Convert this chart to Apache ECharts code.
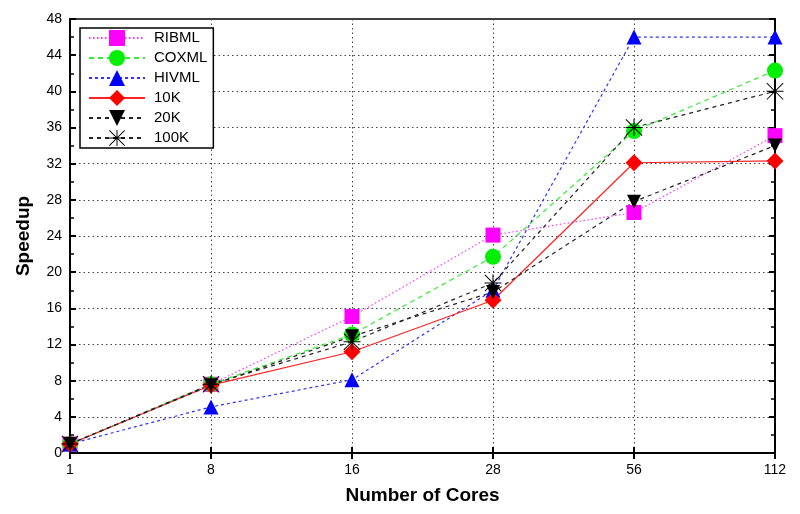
<!DOCTYPE html>
<html><head><meta charset="utf-8">
<script src="https://cdn.jsdelivr.net/npm/echarts@6/dist/echarts.min.js"></script>
<style>html,body{margin:0;padding:0;background:#fff}#c{width:800px;height:514px}</style>
</head><body><div id="c"></div>
<script>
const cores = ['1','8','16','28','56','112'];
const yTicks = [0,4,8,12,16,20,24,28,32,36,40,44,48];
const ribml = [1.0, 7.6, 15.1, 24.1, 26.6, 35.1];
const coxml = [1.0, 7.6, 13.1, 21.7, 35.6, 42.3];
const hivml = [1.0, 5.1, 8.1, 18.0, 46.0, 46.0];
const k10  = [1.0, 7.5, 11.2, 16.9, 32.1, 32.3];
const k20  = [1.0, 7.5, 12.9, 17.8, 27.8, 34.0];
const k100 = [1.0, 7.6, 12.3, 18.8, 36.0, 40.0];

const asterisk = 'path://M9.4,0L10.6,0L10.6,20L9.4,20Z M0,9.4L20,9.4L20,10.6L0,10.6Z M0.8,0L20,19.2L19.2,20L0,0.8Z M19.2,0L20,0.8L0.8,20L0,19.2Z';
const font = 'Liberation Sans, Arial, Helvetica, sans-serif';

function mk(name, data, color, lineColor, type, symbol, size, extra) {
  return Object.assign({
    name, type: 'line', data,
    symbol, symbolSize: size,
    itemStyle: { color: color },
    lineStyle: { color: lineColor, width: 1.2, type: type },
    emphasis: { disabled: true },
    animation: false
  }, extra || {});
}

const chart = echarts.init(document.getElementById('c'), null, {renderer: 'canvas'});
chart.setOption({
  backgroundColor: '#fff',
  animation: false,
  grid: { left: 70, right: 25, top: 19, bottom: 61, show: true, borderColor: '#000', borderWidth: 1.5 },
  legend: {
    orient: 'vertical', left: 80, top: 28,
    backgroundColor: '#fff', borderColor: '#000', borderWidth: 1.5,
    padding: [2, 6, 2, 8], itemGap: 4, itemWidth: 56, itemHeight: 20,
    textStyle: { fontFamily: font, fontSize: 15, color: '#000', padding: [0,0,0,4] },
    data: ['RIBML','COXML','HIVML','10K','20K','100K']
  },
  xAxis: [{
    type: 'category', data: cores, boundaryGap: false,
    name: 'Number of Cores', nameLocation: 'middle', nameGap: 33,
    nameTextStyle: { fontFamily: font, fontSize: 19, fontWeight: 'bold', color: '#000' },
    axisLine: { show: true, lineStyle: { color: '#000', width: 2 } },
    axisTick: { show: true, inside: true, length: 6, lineStyle: { color: '#000', width: 2 } },
    axisLabel: { fontFamily: font, fontSize: 14, color: '#000', margin: 10 },
    splitLine: { show: true, lineStyle: { color: '#444', type: [1.5, 3], width: 1 } }
  }, {
    type: 'category', data: cores, boundaryGap: false, position: 'top',
    axisLine: { show: true, lineStyle: { color: '#000', width: 1.5 } },
    axisTick: { show: true, inside: true, length: 6, lineStyle: { color: '#000', width: 2 } },
    axisLabel: { show: false }, splitLine: { show: false }
  }],
  yAxis: [{
    type: 'value', min: 0, max: 48, interval: 4,
    name: 'Speedup', nameLocation: 'middle', nameGap: 37, nameRotate: 90,
    nameTextStyle: { fontFamily: font, fontSize: 19, fontWeight: 'bold', color: '#000' },
    axisLine: { show: true, lineStyle: { color: '#000', width: 2 } },
    axisTick: { show: true, inside: true, length: 6, lineStyle: { color: '#000', width: 2 } },
    minorTick: { show: true, splitNumber: 2, length: 4, lineStyle: { color: '#000', width: 1.5 } },
    axisLabel: { fontFamily: font, fontSize: 14, color: '#000', margin: 8,
      formatter: v => yTicks.includes(v) ? String(v) : '' },
    splitLine: { show: true, lineStyle: { color: '#444', type: [1.5, 3], width: 1 } }
  }, {
    type: 'value', min: 0, max: 48, interval: 4, position: 'right',
    axisLine: { show: true, lineStyle: { color: '#000', width: 2 } },
    axisTick: { show: true, inside: true, length: 6, lineStyle: { color: '#000', width: 2 } },
    minorTick: { show: true, splitNumber: 2, length: 4, lineStyle: { color: '#000', width: 1.5 } },
    axisLabel: { show: false }, splitLine: { show: false }
  }],
  series: [
    mk('RIBML', ribml, '#ff00ff', '#ff33ff', [1.5, 2.5], 'rect', 15),
    mk('COXML', coxml, '#00ee00', '#33ee33', [5, 4], 'circle', 16),
    mk('HIVML', hivml, '#0000ff', '#3333ff', [3, 3], 'triangle', 15),
    mk('10K', k10, '#ff0000', '#ff2222', 'solid', 'diamond', 17),
    mk('20K', k20, '#000000', '#222222', [4, 4], 'triangle', 14, { symbolRotate: 180 }),
    mk('100K', k100, '#000000', '#222222', [4, 4], asterisk, 17)
  ]
});
</script></body></html>
